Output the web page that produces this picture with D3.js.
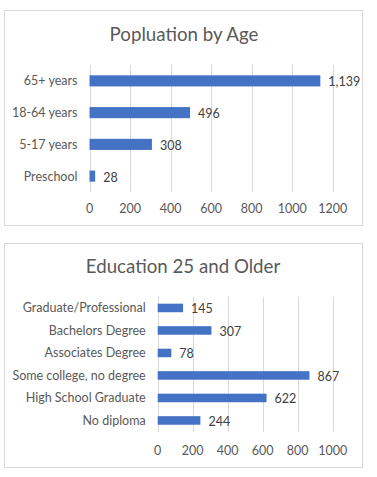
<!DOCTYPE html>
<html>
<head>
<meta charset="utf-8">
<script src="https://cdn.jsdelivr.net/npm/d3@7"></script>
<style>
  body { margin: 0; background: #fff; }
  text { font-family: Lato, "Open Sans", sans-serif; }
</style>
</head>
<body>
<div id="chart"></div>
<script>
const ageCategories = ["65+ years", "18-64 years", "5-17 years", "Preschool"];
const ageValues = [1139, 496, 308, 28];
const ageTicks = [0, 200, 400, 600, 800, 1000, 1200];

const eduCategories = ["Graduate/Professional", "Bachelors Degree", "Associates Degree",
                       "Some college, no degree", "High School Graduate", "No diploma"];
const eduValues = [145, 307, 78, 867, 622, 244];
const eduTicks = [0, 200, 400, 600, 800, 1000];

const barColor = "#4472c4",
      gridColor = "#d9d9d9",
      textColor = "#595959";

var formatValue = d3.format(",d");

var svg = d3.select("#chart").append("svg")
    .attr("width", 377)
    .attr("height", 477);

function drawChart(opts) {
  var g = svg.append("g");

  g.append("rect")
      .attr("x", opts.box[0] + 0.5)
      .attr("y", opts.box[1] + 0.5)
      .attr("width", opts.box[2])
      .attr("height", opts.box[3])
      .attr("fill", "#fff")
      .attr("stroke", gridColor);

  g.append("text")
      .attr("x", opts.titleX)
      .attr("y", opts.titleY)
      .attr("text-anchor", "middle")
      .attr("fill", textColor)
      .attr("font-size", "18.7px")
      .text(opts.title);

  var x = d3.scaleLinear()
      .domain([0, opts.ticks[opts.ticks.length - 1]])
      .range([opts.left, opts.right]);

  var y = d3.scaleBand()
      .domain(opts.categories)
      .range([opts.top, opts.bottom])
      .paddingInner(opts.pad)
      .paddingOuter(opts.pad / 2);

  g.append("g")
      .selectAll("line")
      .data(opts.ticks)
    .enter().append("line")
      .attr("x1", d => Math.round(x(d)) + 0.5)
      .attr("x2", d => Math.round(x(d)) + 0.5)
      .attr("y1", opts.top)
      .attr("y2", opts.bottom)
      .attr("stroke", gridColor);

  g.append("g")
      .selectAll("text")
      .data(opts.ticks)
    .enter().append("text")
      .attr("x", d => x(d))
      .attr("y", opts.tickY)
      .attr("text-anchor", "middle")
      .attr("dy", "0.35em")
      .attr("fill", textColor)
      .attr("font-size", "12.5px")
      .text(d => d);

  var data = opts.categories.map((c, i) => ({name: c, value: opts.values[i]}));

  g.append("g")
      .selectAll("rect")
      .data(data)
    .enter().append("rect")
      .attr("x", x(0))
      .attr("y", d => y(d.name))
      .attr("width", d => x(d.value) - x(0))
      .attr("height", y.bandwidth())
      .attr("fill", barColor);

  g.append("g")
      .selectAll("text")
      .data(data)
    .enter().append("text")
      .attr("x", opts.left - 12)
      .attr("y", d => y(d.name) + y.bandwidth() / 2)
      .attr("dy", "0.35em")
      .attr("text-anchor", "end")
      .attr("fill", textColor)
      .attr("font-size", "12.5px")
      .text(d => d.name);

  g.append("g")
      .selectAll("text")
      .data(data)
    .enter().append("text")
      .attr("x", d => x(d.value) + 8)
      .attr("y", d => y(d.name) + y.bandwidth() / 2 + 1)
      .attr("dy", "0.35em")
      .attr("fill", "#404040")
      .attr("font-size", "12.5px")
      .text(d => formatValue(d.value));
}

drawChart({
  box: [4, 10, 358, 215],
  title: "Popluation by Age",
  titleX: 184, titleY: 41,
  categories: ageCategories, values: ageValues, ticks: ageTicks,
  left: 89.5, right: 332.7, top: 65, bottom: 192, pad: 0.65,
  tickY: 209
});

drawChart({
  box: [4, 243, 358, 224],
  title: "Education 25 and Older",
  titleX: 183, titleY: 273,
  categories: eduCategories, values: eduValues, ticks: eduTicks,
  left: 157.7, right: 332.7, top: 296.7, bottom: 431.7, pad: 0.62,
  tickY: 450.7
});
</script>
</body>
</html>
